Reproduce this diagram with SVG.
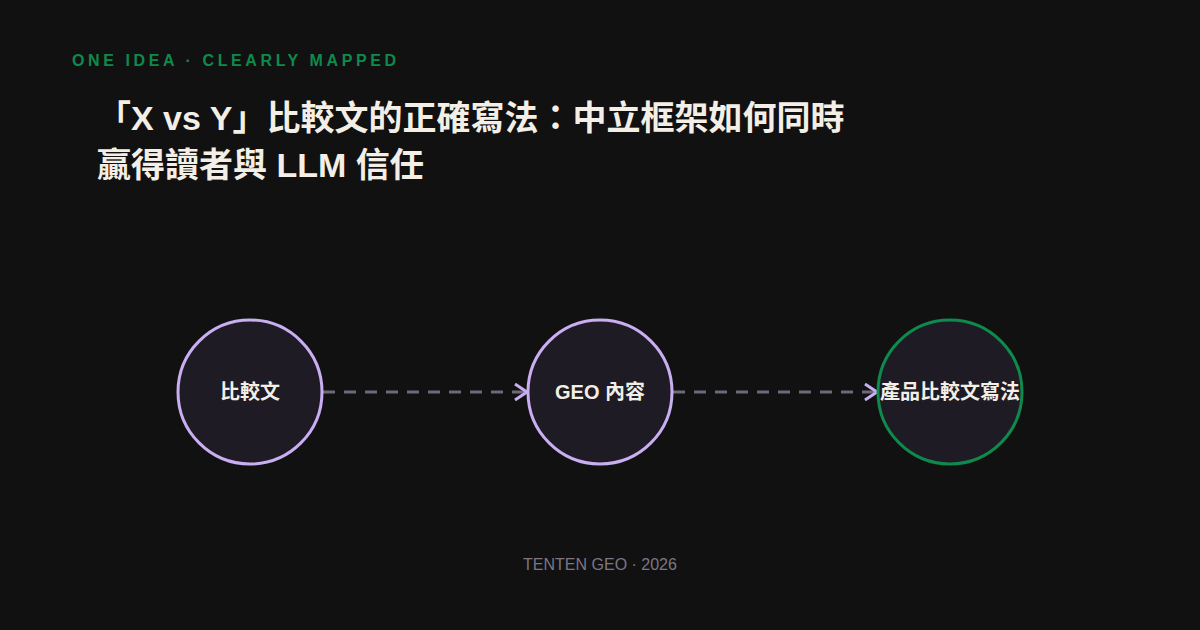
<svg xmlns="http://www.w3.org/2000/svg" width="1200" height="630" viewBox="0 0 1200 630">
<defs>
<style>
.kicker{font-family:"Liberation Sans",Arial,sans-serif;font-weight:700;font-size:16px;letter-spacing:3.6px;fill:#0d8a4c}
.title{font-family:"Liberation Sans","Noto Sans CJK TC",sans-serif;font-weight:700;font-size:34px;fill:#f3efe6}
.foot{font-family:"Liberation Sans",Arial,sans-serif;font-size:16px;fill:#7c7684}
.node{fill:#1e1b24;stroke-width:3}
.lilac{stroke:#c9aef2}
.green{stroke:#0d8a4c}
.label{font-family:"Liberation Sans","Noto Sans CJK TC",sans-serif;font-weight:700;font-size:20px;fill:#f3efe6;text-anchor:middle}
.edge{stroke:#6f6879;stroke-width:3;stroke-dasharray:12 9;fill:none}
</style>
<marker id="arr" markerWidth="18" markerHeight="20" refX="14" refY="10" orient="auto" markerUnits="userSpaceOnUse">
<path d="M2,2 L14,10 L2,18" fill="none" stroke="#c9aef2" stroke-width="3"/>
</marker>
</defs>
<rect width="1200" height="630" fill="#111111"/>
<text class="kicker" x="72" y="66">ONE IDEA · CLEARLY MAPPED</text>
<text class="title" x="97" y="130">「X vs Y」比較文的正確寫法：中立框架如何同時</text>
<text class="title" x="97" y="177">贏得讀者與 LLM 信任</text>
<g id="connectors">
<line class="edge" x1="323" y1="392" x2="527" y2="392" marker-end="url(#arr)"/>
<line class="edge" x1="673" y1="392" x2="877" y2="392" marker-end="url(#arr)"/>
</g>
<g id="node1">
<circle class="node lilac" cx="250" cy="392" r="72"/>
<text class="label" x="250" y="399">比較文</text>
</g>
<g id="node2">
<circle class="node lilac" cx="600" cy="392" r="72"/>
<text class="label" x="600" y="399">GEO 內容</text>
</g>
<g id="node3">
<circle class="node green" cx="950" cy="392" r="72"/>
<text class="label" x="950" y="399">產品比較文寫法</text>
</g>
<text class="foot" x="600" y="570" text-anchor="middle">TENTEN GEO · 2026</text>
</svg>
